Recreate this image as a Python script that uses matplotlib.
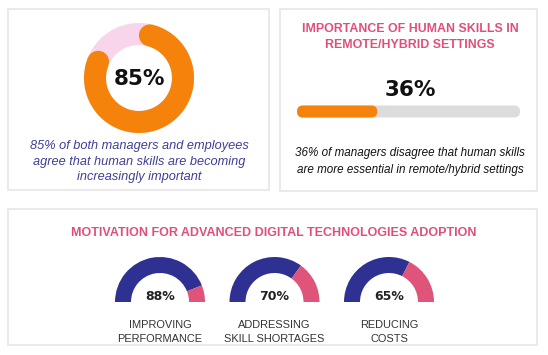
import numpy as np
import matplotlib
matplotlib.use("Agg")
import matplotlib.pyplot as plt
from matplotlib.patches import Wedge, Rectangle, FancyBboxPatch

plt.rcParams['font.family'] = ['Liberation Sans', 'DejaVu Sans']

# data
donut_value = 85
donut_text = "85% of both managers and employees\nagree that human skills are becoming\nincreasingly important"

bar_title = "IMPORTANCE OF HUMAN SKILLS IN\nREMOTE/HYBRID SETTINGS"
bar_value = 36
bar_text = "36% of managers disagree that human skills\nare more essential in remote/hybrid settings"

gauge_title = "MOTIVATION FOR ADVANCED DIGITAL TECHNOLOGIES ADOPTION"
gauge_labels = ["IMPROVING\nPERFORMANCE", "ADDRESSING\nSKILL SHORTAGES", "REDUCING\nCOSTS"]
gauge_values = [88, 70, 65]

orange = "#F5820B"
light_pink = "#F8D5EA"
grey = "#DCDCDC"
navy = "#2E3192"
pink = "#DF5579"
title_pink = "#E04F7B"
text_navy = "#3E3E98"
border = "#EAEAEA"

W, H = 548, 355
fig = plt.figure(figsize=(W / 100, H / 100), dpi=100)
ax = fig.add_axes([0, 0, 1, 1])
ax.set_xlim(0, W)
ax.set_ylim(H, 0)
ax.set_aspect('equal')
ax.axis('off')

# panels
for x0, y0, x1, y1 in [(8, 9, 269, 190), (280, 9, 537, 191), (8, 209, 537, 345)]:
    ax.add_patch(Rectangle((x0, y0), x1 - x0, y1 - y0, fill=False,
                           edgecolor=border, linewidth=1.5))

# --- donut panel
cx, cy, r_out, ring = 139, 78, 55, 22
ax.add_patch(Wedge((cx, cy), r_out, 0, 360, width=ring, facecolor=light_pink, edgecolor='none'))
r_mid = r_out - ring / 2
cap = np.degrees((ring / 2) / r_mid)
sweep = donut_value / 100 * 360
th = np.radians(np.linspace(90 - cap, 90 - sweep + cap, 200))
ax.plot(cx + r_mid * np.cos(th), cy - r_mid * np.sin(th), color=orange,
        linewidth=ring * 0.72, solid_capstyle='round')
ax.text(cx, cy + 1, f"{donut_value}%", ha='center', va='center', fontsize=15.5,
        fontweight='bold', family='DejaVu Sans', color='#111111')
ax.text(cx, 161.5, donut_text, ha='center', va='center', fontsize=9.2,
        style='italic', color=text_navy, linespacing=1.35)

# --- bar panel
bx0, bx1, by, bh = 297, 520, 111.5, 12
ax.text(410, 37, bar_title, ha='center', va='center', fontsize=8.9,
        fontweight='bold', color=title_pink, linespacing=1.4)
ax.text(410, 90, f"{bar_value}%", ha='center', va='center', fontsize=15.5,
        fontweight='bold', family='DejaVu Sans', color='#111111')
ax.add_patch(FancyBboxPatch((bx0, by - bh / 2), bx1 - bx0, bh,
                            boxstyle=f"round,pad=0,rounding_size={bh/2}",
                            facecolor=grey, edgecolor='none'))
fill_w = (bx1 - bx0) * bar_value / 100
ax.add_patch(FancyBboxPatch((bx0, by - bh / 2), fill_w, bh,
                            boxstyle=f"round,pad=0,rounding_size={bh/2}",
                            facecolor=orange, edgecolor='none'))
ax.text(410, 161.5, bar_text, ha='center', va='center', fontsize=8.4,
        style='italic', color='#111111', linespacing=1.5)

# --- gauges panel
ax.text(274, 233, gauge_title, ha='center', va='center', fontsize=9.0,
        fontweight='bold', color=title_pink)
g_centers = [160, 274.5, 389]
gy, g_out, g_w = 302, 45, 16
for gx, val, lab in zip(g_centers, gauge_values, gauge_labels):
    split = 180 - val / 100 * 180
    # y inverted: screen angle a maps to data angle -a
    ax.add_patch(Wedge((gx, gy), g_out, -180, -split, width=g_w, facecolor=navy, edgecolor='none'))
    ax.add_patch(Wedge((gx, gy), g_out, -split, 0, width=g_w, facecolor=pink, edgecolor='none'))
    ax.text(gx, 297, f"{val}%", ha='center', va='center', fontsize=9,
            fontweight='bold', family='DejaVu Sans', color='#222222')
    ax.text(gx, 332, lab, ha='center', va='center', fontsize=7.9,
            color='#333333', linespacing=1.45)

fig.savefig("out.png", dpi=100, facecolor='white')
